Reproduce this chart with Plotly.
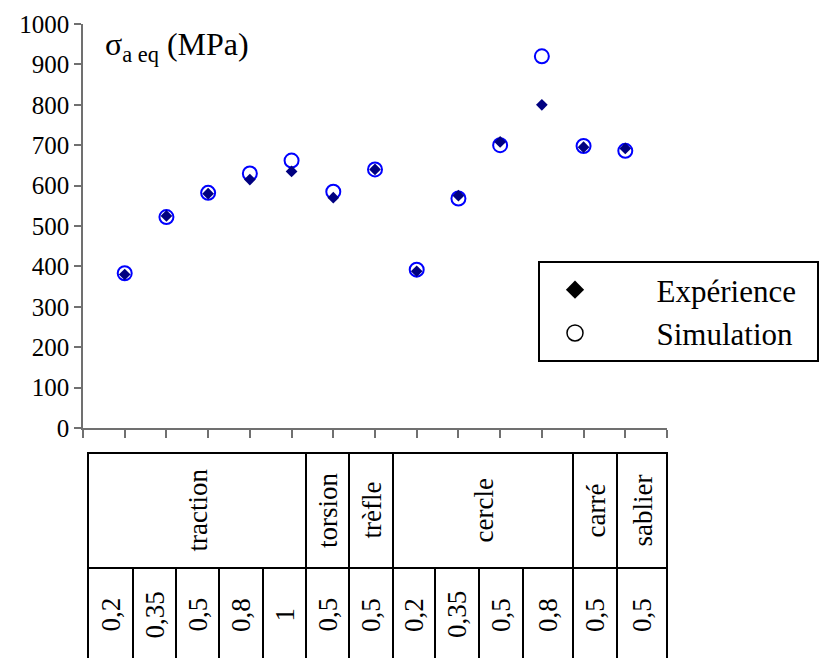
import plotly.graph_objects as go

# ---- data ----
positions = list(range(1, 14))
experience = [380, 525, 580, 615, 635, 570, 640, 388, 575, 708, 800, 695, 692]
simulation = [383, 522, 582, 630, 662, 585, 640, 392, 568, 700, 920, 698, 686]
groups = ["traction", "torsion", "trèfle", "cercle", "carré", "sablier"]
group_sizes = [5, 1, 1, 4, 1, 1]
values = ["0,2", "0,35", "0,5", "0,8", "1", "0,5", "0,5", "0,2", "0,35", "0,5", "0,8", "0,5", "0,5"]
y_ticks = list(range(0, 1001, 100))

# ---- layout constants (pixels of the 823x658 page) ----
W, H = 823, 658
L, R, T, B = 83, 667, 24, 428
FONT = "Liberation Serif, Times New Roman, serif"
# table column edges (px)
col_edges_px = [88, 133, 176, 219, 263, 306, 349, 393, 435, 479, 523, 573, 617, 667]
tab_top, tab_mid, tab_bot = 453, 568, 700


def px_x(p):
    return (p - L) / (R - L)


def px_y(p):
    return (B - p) / (B - T)


fig = go.Figure()

fig.add_trace(go.Scatter(
    x=positions, y=simulation, mode="markers", showlegend=False,
    marker=dict(symbol="circle-open", size=14, color="#0000FF", line=dict(width=2, color="#0000FF")),
))
fig.add_trace(go.Scatter(
    x=positions, y=experience, mode="markers", showlegend=False,
    marker=dict(symbol="diamond", size=9, color="#000080", line=dict(width=0)),
))
# legend entries (black symbols as in the reference)
pad_l, pad_r = "\u00a0" * 6, "\u00a0" * 2
fig.add_trace(go.Scatter(
    x=[None], y=[None], mode="markers", name=pad_l + "Expérience" + pad_r,
    marker=dict(symbol="diamond", size=14, color="black"),
))
fig.add_trace(go.Scatter(
    x=[None], y=[None], mode="markers", name=pad_l + "Simulation" + pad_r,
    marker=dict(symbol="circle-open", size=16, color="black", line=dict(width=1.5, color="black")),
))

shapes = []
line_style = dict(color="black", width=2)
x0, x1 = px_x(col_edges_px[0]), px_x(col_edges_px[-1])
shapes.append(dict(type="rect", xref="paper", yref="paper", x0=x0, x1=x1,
                   y0=px_y(tab_bot), y1=px_y(tab_top), line=line_style))
shapes.append(dict(type="line", xref="paper", yref="paper", x0=x0, x1=x1,
                   y0=px_y(tab_mid), y1=px_y(tab_mid), line=line_style))
idx = 0
group_bounds = []
for g, n in zip(groups, group_sizes):
    group_bounds.append((col_edges_px[idx], col_edges_px[idx + n]))
    idx += n
for a, b in group_bounds[:-1]:
    shapes.append(dict(type="line", xref="paper", yref="paper", x0=px_x(b), x1=px_x(b),
                       y0=px_y(tab_mid), y1=px_y(tab_top), line=line_style))
for e in col_edges_px[1:-1]:
    shapes.append(dict(type="line", xref="paper", yref="paper", x0=px_x(e), x1=px_x(e),
                       y0=px_y(tab_bot), y1=px_y(tab_mid), line=line_style))

annotations = []
for g, (a, b) in zip(groups, group_bounds):
    annotations.append(dict(text=g, xref="paper", yref="paper", x=px_x((a + b) / 2),
                            y=px_y((tab_top + tab_mid) / 2), textangle=-90, showarrow=False,
                            font=dict(family=FONT, size=27, color="black"),
                            xanchor="center", yanchor="middle"))
for i, v in enumerate(values):
    a, b = col_edges_px[i], col_edges_px[i + 1]
    annotations.append(dict(text=v, xref="paper", yref="paper", x=px_x((a + b) / 2),
                            y=px_y(615), textangle=-90, showarrow=False,
                            font=dict(family=FONT, size=27, color="black"),
                            xanchor="center", yanchor="middle"))
annotations.append(dict(text="σ<sub>a eq</sub> (MPa)", xref="paper", yref="paper",
                        x=px_x(103), y=px_y(46), xanchor="left", yanchor="middle",
                        showarrow=False, font=dict(family=FONT, size=32, color="black")))

fig.update_layout(
    width=W, height=H,
    margin=dict(l=L, r=W - R, t=T, b=H - B, autoexpand=False),
    paper_bgcolor="white", plot_bgcolor="white",
    font=dict(family=FONT, color="black"),
    shapes=shapes, annotations=annotations,
    legend=dict(xref="container", yref="container", x=538 / W, y=1 - 261 / H,
                xanchor="left", yanchor="top",
                bordercolor="black", borderwidth=2, bgcolor="white",
                font=dict(family=FONT, size=31, color="black"),
                itemwidth=60),
    xaxis=dict(range=[0, 14], tickvals=list(range(0, 15)), showticklabels=False,
               ticks="outside", ticklen=8, tickwidth=1.5, tickcolor="#707070",
               showline=True, linecolor="#707070", linewidth=1.5, showgrid=False,
               zeroline=False, fixedrange=True),
    yaxis=dict(range=[0, 1000], tickvals=y_ticks, ticks="outside", ticklen=7,
               tickwidth=1.5, tickcolor="#707070", showline=True, linecolor="#707070",
               linewidth=1.5, showgrid=False, zeroline=False,
               tickfont=dict(family=FONT, size=25, color="black")),
)

fig.write_html("out.html", config={"displayModeBar": False},
               post_script="document.body.style.margin='0';")
